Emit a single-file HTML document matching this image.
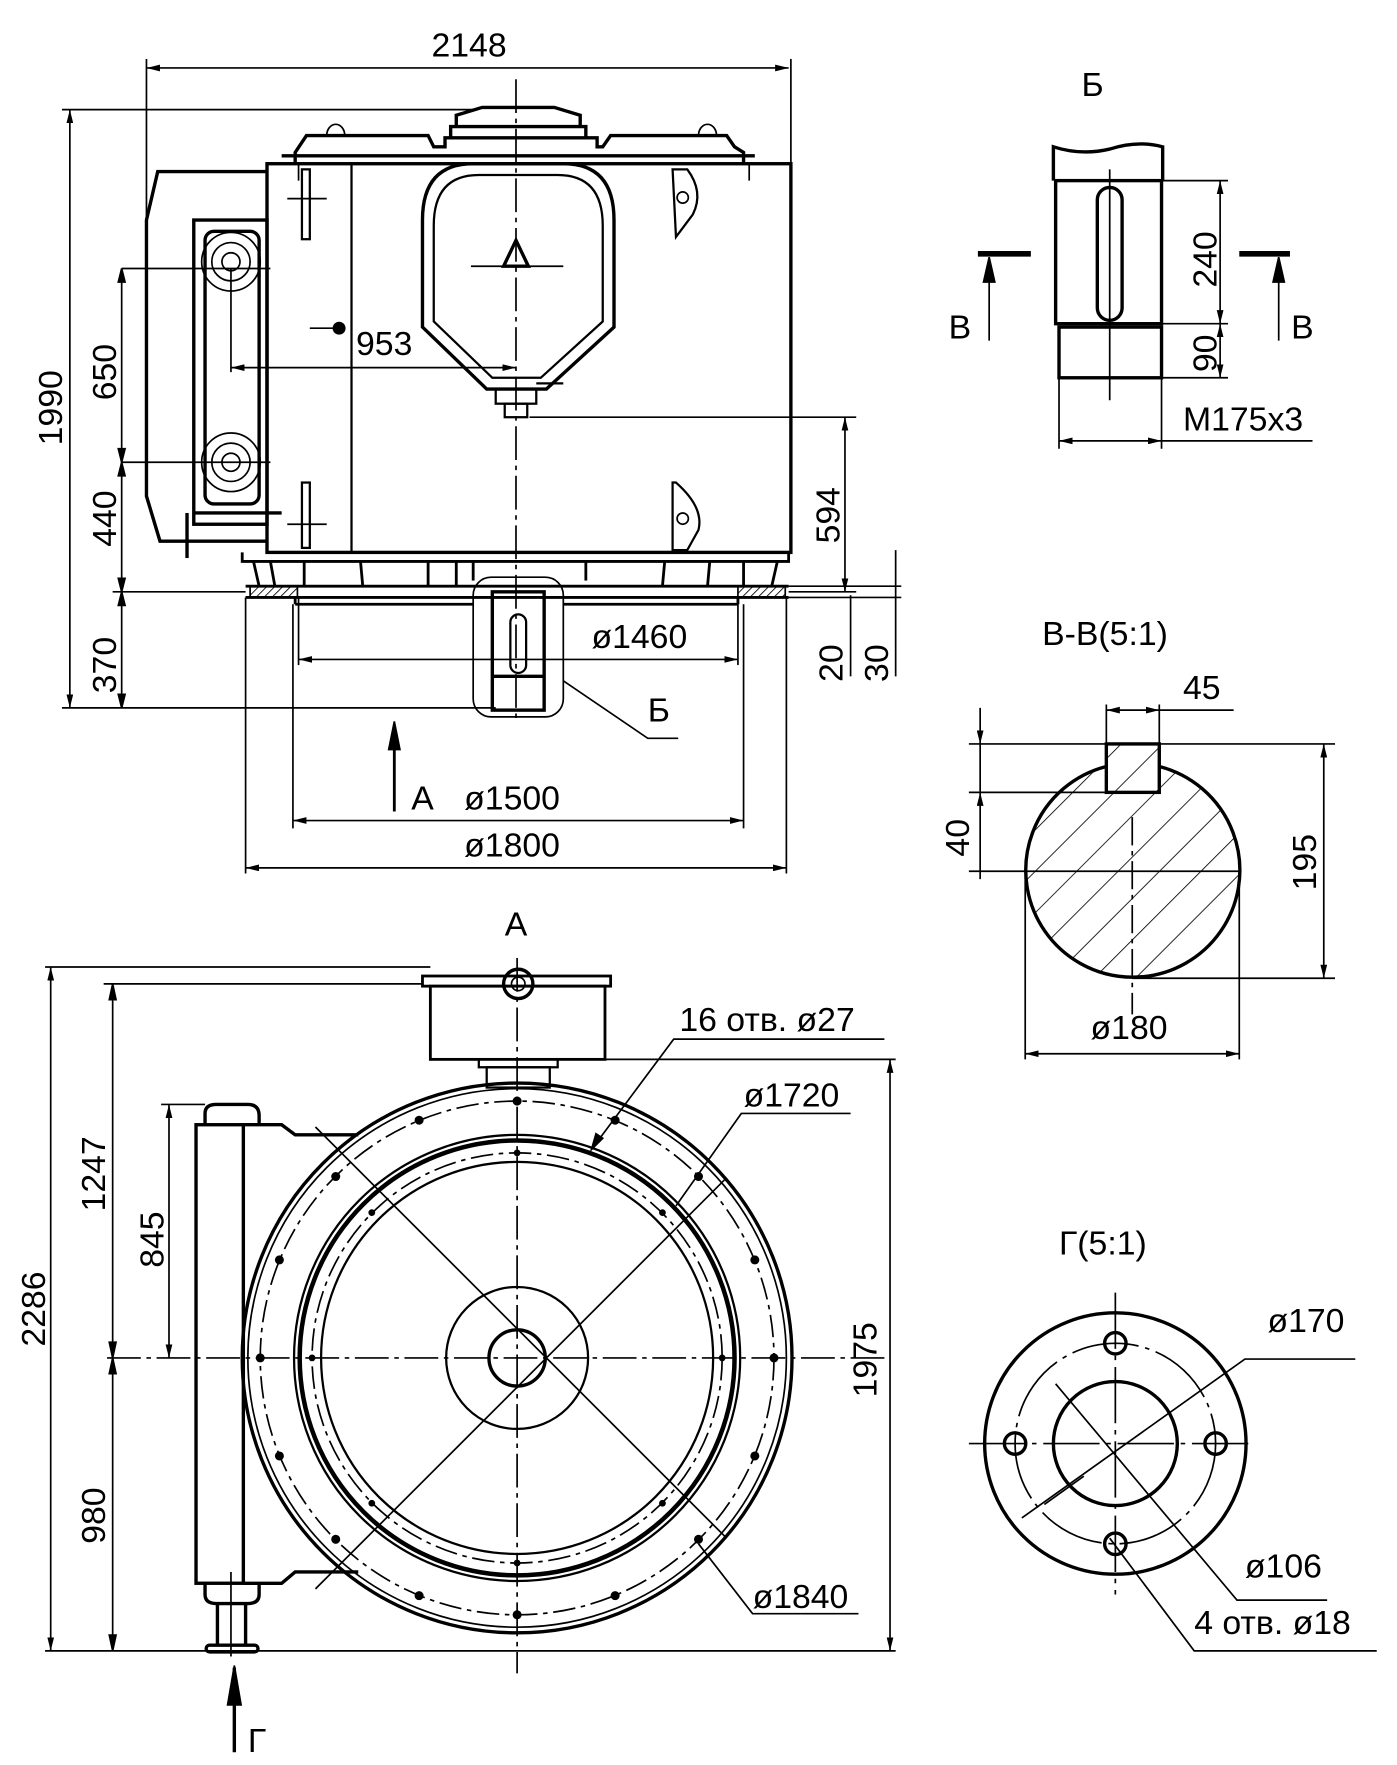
<!DOCTYPE html>
<html><head><meta charset="utf-8">
<style>
html,body{margin:0;padding:0;background:#fff;}
svg{display:block;}
text{font-family:"Liberation Sans","DejaVu Sans",sans-serif;font-size:30px;fill:#000;}
</style></head>
<body>
<svg width="1397" height="1765" viewBox="0 0 1240 1566" xmlns="http://www.w3.org/2000/svg">
<defs>
<marker id="a" viewBox="0 0 12 6" refX="12" refY="3" markerWidth="12" markerHeight="6" orient="auto-start-reverse" markerUnits="userSpaceOnUse"><path d="M0,0 L12,3 L0,6 z" fill="#000"/></marker>
<pattern id="h" patternUnits="userSpaceOnUse" width="26" height="26" patternTransform="rotate(45)"><line x1="0" y1="0" x2="0" y2="26" stroke="#000" stroke-width="1.5"/></pattern>
<pattern id="h2" patternUnits="userSpaceOnUse" width="5" height="5" patternTransform="rotate(45)"><line x1="0" y1="0" x2="0" y2="5" stroke="#000" stroke-width="1.5"/></pattern>
<clipPath id="sc"><path d="M982,680 A95,95 0 1,0 1029,680 L1029,703 L982,703 Z"/></clipPath>
</defs>
<g fill="none" stroke="#000" stroke-width="1.5">
<!-- ============ TOP VIEW ============ -->
<!-- 2148 -->
<line x1="130" y1="60" x2="700" y2="60" marker-start="url(#a)" marker-end="url(#a)"/>
<line x1="130" y1="52" x2="130" y2="300"/>
<line x1="702" y1="52" x2="702" y2="145"/>
<!-- centerline -->
<line x1="458" y1="70" x2="458" y2="640" stroke-dasharray="30,5,4,5"/>
<!-- body -->
<g stroke-width="3">
<rect x="237" y="145" width="465" height="345"/>
<path d="M262,145 L262,135 L272,120 L380,120 L385,130 L395,130 L395,122 L400,122 L400,112 L520,112 L520,122 L530,122 L530,130 L535,130 L542,120 L645,120 L652,130 L660,135 L660,145"/>
<path d="M405,112 L405,102 L428,95 L492,95 L515,102 L515,112"/>
<line x1="400" y1="122" x2="520" y2="122"/>
<line x1="250" y1="138" x2="670" y2="138"/>
<path d="M237,152 L140,152 L130,195 L130,440 L142,480 L237,480"/>
<rect x="172" y="195" width="65" height="270"/>
<rect x="182" y="205" width="48" height="242" rx="8"/>
<line x1="172" y1="455" x2="250" y2="455"/>
<line x1="166" y1="455" x2="166" y2="495"/>
</g>
<line x1="312" y1="145" x2="312" y2="490" stroke-width="2"/>
<path d="M290,120 A8,10 0 0,1 306,120 M620,120 A8,10 0 0,1 636,120"/>
<line x1="265" y1="145" x2="265" y2="160"/><line x1="665" y1="145" x2="665" y2="160"/>
<!-- motor circles -->
<g>
<circle cx="205" cy="232" r="26"/><circle cx="205" cy="232" r="17"/><circle cx="205" cy="232" r="8"/>
<circle cx="205" cy="410" r="26"/><circle cx="205" cy="410" r="17"/><circle cx="205" cy="410" r="8"/>
</g>
<line x1="108" y1="238" x2="240" y2="238"/>
<line x1="108" y1="410" x2="240" y2="410"/>
<line x1="205" y1="238" x2="205" y2="330"/>
<!-- slots -->
<rect x="268" y="150" width="7" height="62" stroke-width="2"/>
<rect x="268" y="428" width="7" height="58" stroke-width="2"/>
<line x1="255" y1="176" x2="290" y2="176"/><line x1="255" y1="465" x2="290" y2="465"/>
<path d="M597,150 L610,150 Q625,170 615,190 L600,210 Z" stroke-width="2"/>
<circle cx="606" cy="175" r="5"/>
<path d="M597,428 L600,428 Q625,450 620,470 L610,488 L597,488 Z" stroke-width="2"/>
<circle cx="606" cy="460" r="5"/>
<circle cx="301" cy="291" r="5" fill="#000"/><line x1="275" y1="291" x2="296" y2="291"/>
<!-- hopper -->
<path d="M375,195 Q375,145 420,145 L500,145 Q545,145 545,195 L545,290 L485,345 L432,345 L375,290 Z" stroke-width="3"/>
<path d="M385,200 Q385,155 425,155 L495,155 Q535,155 535,200 L535,285 L480,335 L437,335 L385,285 Z" stroke-width="2"/>
<rect x="440" y="345" width="36" height="13" stroke-width="2"/>
<rect x="448" y="358" width="20" height="12" stroke-width="2"/>
<line x1="476" y1="340" x2="500" y2="340" stroke-width="2"/>
<line x1="418" y1="236" x2="500" y2="236"/>
<path d="M447,236 L458,213 L469,236 Z" stroke-width="3"/>
<!-- 953 -->
<line x1="205" y1="326" x2="458" y2="326" marker-start="url(#a)" marker-end="url(#a)"/>
<!-- base -->
<g stroke-width="2.5">
<path d="M215,490 L215,498 L700,498 L700,490"/>
<path d="M225,498 L230,520 M690,498 L685,520"/>
<line x1="218" y1="520" x2="700" y2="520"/>
<line x1="218" y1="530" x2="700" y2="530"/>
<line x1="262" y1="530" x2="262" y2="536"/><line x1="655" y1="530" x2="655" y2="536"/>
<line x1="262" y1="536" x2="420" y2="536"/><line x1="500" y1="536" x2="655" y2="536"/>
<line x1="240" y1="498" x2="244" y2="520"/><line x1="270" y1="498" x2="270" y2="520"/>
<line x1="320" y1="498" x2="322" y2="520"/><line x1="380" y1="498" x2="380" y2="520"/>
<line x1="405" y1="498" x2="405" y2="520"/><line x1="420" y1="498" x2="420" y2="515"/>
<line x1="520" y1="498" x2="520" y2="515"/><line x1="590" y1="498" x2="588" y2="520"/>
<line x1="630" y1="498" x2="628" y2="520"/><line x1="660" y1="498" x2="660" y2="520"/>
</g>
<rect x="222" y="520" width="42" height="10" fill="url(#h2)"/>
<rect x="655" y="520" width="42" height="10" fill="url(#h2)"/>
<!-- shaft -->
<rect x="420" y="512" width="80" height="124" rx="16"/>
<rect x="437" y="525" width="46" height="105" stroke-width="3"/>
<line x1="437" y1="600" x2="483" y2="600" stroke-width="3"/>
<rect x="453" y="545" width="14" height="52" rx="7" stroke-width="2"/>
<!-- dims -->
<line x1="62" y1="97" x2="62" y2="628" marker-start="url(#a)" marker-end="url(#a)"/>
<line x1="55" y1="97" x2="420" y2="97"/>
<line x1="55" y1="628" x2="440" y2="628"/>
<line x1="108" y1="238" x2="108" y2="628"/>
<path d="M108,238 l-3,12 l6,0 z M108,410 l-3,-12 l6,0 z M108,410 l-3,12 l6,0z M108,525 l-3,-12 l6,0z M108,525 l-3,12 l6,0z M108,628 l-3,-12 l6,0z" fill="#000"/>
<line x1="100" y1="525" x2="218" y2="525"/>
<line x1="750" y1="370" x2="750" y2="525" marker-start="url(#a)" marker-end="url(#a)"/>
<line x1="470" y1="370" x2="760" y2="370"/>
<line x1="700" y1="520" x2="800" y2="520"/>
<line x1="700" y1="530" x2="800" y2="530"/>
<line x1="700" y1="525" x2="760" y2="525"/>
<line x1="755" y1="528" x2="755" y2="600"/><line x1="795" y1="488" x2="795" y2="600"/>
<line x1="265" y1="585" x2="655" y2="585" marker-start="url(#a)" marker-end="url(#a)"/>
<line x1="265" y1="530" x2="265" y2="590"/><line x1="655" y1="530" x2="655" y2="590"/>
<line x1="260" y1="728" x2="660" y2="728" marker-start="url(#a)" marker-end="url(#a)"/>
<line x1="260" y1="536" x2="260" y2="735"/><line x1="660" y1="536" x2="660" y2="735"/>
<line x1="218" y1="770" x2="698" y2="770" marker-start="url(#a)" marker-end="url(#a)"/>
<line x1="218" y1="530" x2="218" y2="775"/><line x1="698" y1="530" x2="698" y2="775"/>
<polyline points="500,604 575,655 602,655"/>
<line x1="350" y1="720" x2="350" y2="645" stroke-width="2.5"/>
<path d="M350,640 l-5,25 l10,0 z" fill="#000"/>

<!-- ============ VIEW Б ============ -->
<g stroke-width="3">
<path d="M935,160 L935,130 Q960,138 985,132 Q1010,124 1032,130 L1032,160"/>
<rect x="937" y="160" width="94" height="127"/>
<rect x="940" y="290" width="91" height="45"/>
<rect x="974" y="166" width="22" height="118" rx="11"/>
</g>
<line x1="985" y1="150" x2="985" y2="355"/>
<line x1="1032" y1="160" x2="1090" y2="160"/><line x1="1032" y1="287" x2="1090" y2="287"/><line x1="1032" y1="335" x2="1090" y2="335"/>
<line x1="1083" y1="160" x2="1083" y2="287" marker-start="url(#a)" marker-end="url(#a)"/>
<line x1="1083" y1="287" x2="1083" y2="335" marker-start="url(#a)" marker-end="url(#a)"/>
<line x1="940" y1="335" x2="940" y2="398"/><line x1="1031" y1="335" x2="1031" y2="398"/>
<line x1="940" y1="391" x2="1031" y2="391" marker-start="url(#a)" marker-end="url(#a)"/>
<line x1="1031" y1="391" x2="1165" y2="391"/>
<line x1="868" y1="225" x2="915" y2="225" stroke-width="5"/>
<line x1="878" y1="230" x2="878" y2="302"/><path d="M878,228 l-5,22 l10,0 z" fill="#000"/>
<line x1="1100" y1="225" x2="1145" y2="225" stroke-width="5"/>
<line x1="1135" y1="230" x2="1135" y2="302"/><path d="M1135,228 l-5,22 l10,0 z" fill="#000"/>

<!-- ============ SECTION В-В ============ -->
<rect x="900" y="660" width="220" height="220" fill="url(#h)" clip-path="url(#sc)" stroke="none"/>
<rect x="982" y="660" width="47" height="43" fill="url(#h)" stroke="none"/>
<path d="M982,680 A95,95 0 1,0 1029,680" stroke-width="3"/>
<rect x="982" y="660" width="47" height="43" stroke-width="3"/>
<line x1="860" y1="773" x2="1100" y2="773"/>
<line x1="1005" y1="725" x2="1005" y2="900" stroke-dasharray="25,5,4,5"/>
<line x1="860" y1="660" x2="1185" y2="660"/><line x1="860" y1="703" x2="982" y2="703"/>
<line x1="1005" y1="868" x2="1185" y2="868"/>
<line x1="1175" y1="660" x2="1175" y2="868" marker-start="url(#a)" marker-end="url(#a)"/>
<line x1="870" y1="628" x2="870" y2="660" marker-end="url(#a)"/>
<line x1="870" y1="780" x2="870" y2="703" marker-end="url(#a)"/>
<line x1="870" y1="660" x2="870" y2="703"/>
<line x1="982" y1="625" x2="982" y2="660"/><line x1="1029" y1="625" x2="1029" y2="660"/>
<line x1="982" y1="630" x2="1029" y2="630" marker-start="url(#a)" marker-end="url(#a)"/>
<line x1="1029" y1="630" x2="1095" y2="630"/>
<line x1="910" y1="773" x2="910" y2="940"/><line x1="1100" y1="773" x2="1100" y2="940"/>
<line x1="910" y1="935" x2="1100" y2="935" marker-start="url(#a)" marker-end="url(#a)"/>

<!-- ============ VIEW A ============ -->
<circle cx="459" cy="1205" r="244" stroke-width="3"/>
<circle cx="459" cy="1205" r="239"/>
<circle cx="459" cy="1205" r="228" stroke-dasharray="20,5,4,5"/>
<circle cx="459" cy="1205" r="198" stroke-width="2"/>
<circle cx="459" cy="1205" r="193" stroke-width="4"/>
<circle cx="459" cy="1205" r="182" stroke-dasharray="20,5,4,5"/>
<circle cx="459" cy="1205" r="174" stroke-width="2"/>
<circle cx="459" cy="1205" r="63" stroke-width="2"/>
<circle cx="459" cy="1205" r="25" stroke-width="3"/>
<g fill="#000" stroke="none">
<circle cx="459" cy="977" r="4"/><circle cx="459" cy="1433" r="4"/><circle cx="231" cy="1205" r="4"/><circle cx="687" cy="1205" r="4"/>
<circle cx="546" cy="994" r="4"/><circle cx="372" cy="994" r="4"/><circle cx="546" cy="1416" r="4"/><circle cx="372" cy="1416" r="4"/>
<circle cx="620" cy="1044" r="4"/><circle cx="298" cy="1044" r="4"/><circle cx="620" cy="1366" r="4"/><circle cx="298" cy="1366" r="4"/>
<circle cx="670" cy="1118" r="4"/><circle cx="248" cy="1118" r="4"/><circle cx="670" cy="1292" r="4"/><circle cx="248" cy="1292" r="4"/>
<circle cx="459" cy="1023" r="3"/><circle cx="459" cy="1387" r="3"/><circle cx="277" cy="1205" r="3"/><circle cx="641" cy="1205" r="3"/>
<circle cx="588" cy="1076" r="3"/><circle cx="330" cy="1076" r="3"/><circle cx="588" cy="1334" r="3"/><circle cx="330" cy="1334" r="3"/>
</g>
<line x1="95" y1="1205" x2="790" y2="1205" stroke-dasharray="30,5,4,5"/>
<line x1="459" y1="850" x2="459" y2="1485" stroke-dasharray="30,5,4,5"/>
<line x1="280" y1="1000" x2="645" y2="1365"/>
<line x1="280" y1="1410" x2="645" y2="1045"/>
<!-- top box -->
<rect x="382" y="875" width="155" height="65" stroke-width="2.5"/>
<rect x="375" y="866" width="167" height="9" stroke-width="2.5"/>
<rect x="425" y="940" width="70" height="7" stroke-width="2"/>
<rect x="432" y="947" width="56" height="18" stroke-width="2"/>
<circle cx="460" cy="873" r="13" stroke-width="3"/><circle cx="460" cy="873" r="6"/>
<!-- left frame -->
<g stroke-width="3">
<rect x="174" y="998" width="42" height="407"/>
<path d="M182,998 L182,988 Q182,980 192,980 L220,980 Q230,980 230,990 L230,998"/>
<path d="M216,998 L250,998 L262,1007 L318,1007"/>
<path d="M216,1405 L250,1405 L262,1395 L318,1395"/>
<path d="M182,1405 L182,1415 Q182,1423 192,1423 L220,1423 Q230,1423 230,1415 L230,1405"/>
<line x1="193" y1="1423" x2="193" y2="1460"/><line x1="218" y1="1423" x2="218" y2="1460"/>
<rect x="183" y="1460" width="46" height="6" rx="3"/>
</g>
<line x1="205" y1="1395" x2="205" y2="1470"/>
<line x1="208" y1="1555" x2="208" y2="1480" stroke-width="3"/>
<path d="M208,1478 l-6,35 l12,0 z" fill="#000"/>
<!-- dims A -->
<line x1="40" y1="858" x2="382" y2="858"/>
<line x1="92" y1="873" x2="375" y2="873"/>
<line x1="40" y1="1465" x2="795" y2="1465"/>
<line x1="45" y1="858" x2="45" y2="1465" marker-start="url(#a)" marker-end="url(#a)"/>
<line x1="100" y1="873" x2="100" y2="1465"/>
<path d="M100,873 l-3,14 l6,0z M100,1205 l-3,-14 l6,0z M100,1205 l-3,14 l6,0z M100,1465 l-3,-14 l6,0z" fill="#000"/>
<line x1="143" y1="980" x2="182" y2="980"/>
<line x1="150" y1="980" x2="150" y2="1205" marker-start="url(#a)" marker-end="url(#a)"/>
<line x1="537" y1="940" x2="795" y2="940"/>
<line x1="790" y1="940" x2="790" y2="1465" marker-start="url(#a)" marker-end="url(#a)"/>
<polyline points="525,1020 598,922 785,922" />
<path d="M525,1020 l4,-14 l6,4 z" fill="#000"/>
<polyline points="600,1070 658,988 755,988"/>
<polyline points="620,1370 668,1432 762,1432"/>

<!-- ============ VIEW Г ============ -->
<circle cx="990" cy="1281" r="116" stroke-width="3"/>
<circle cx="990" cy="1281" r="89" stroke-dasharray="60,6,4,6"/>
<circle cx="990" cy="1281" r="55" stroke-width="3"/>
<circle cx="990" cy="1192" r="9.5" stroke-width="3"/>
<circle cx="990" cy="1370" r="9.5" stroke-width="3"/>
<circle cx="901" cy="1281" r="9.5" stroke-width="3"/>
<circle cx="1079" cy="1281" r="9.5" stroke-width="3"/>
<line x1="860" y1="1281" x2="1110" y2="1281" stroke-dasharray="50,6,4,6"/>
<line x1="990" y1="1147" x2="990" y2="1415" stroke-dasharray="50,6,4,6"/>
<polyline points="907,1347 1105,1206 1203,1206"/>
<polyline points="937,1228 1098,1420 1178,1420"/>
<polyline points="985,1365 1060,1465 1222,1465"/>
<line x1="927" y1="1335" x2="962" y2="1310"/>
</g>

<!-- ============ TEXT ============ -->
<g>
<text x="383" y="50">2148</text>
<text x="316" y="315">953</text>
<text transform="translate(55,395) rotate(-90)">1990</text>
<text transform="translate(103,355) rotate(-90)">650</text>
<text transform="translate(103,485) rotate(-90)">440</text>
<text transform="translate(103,615) rotate(-90)">370</text>
<text transform="translate(745,482) rotate(-90)">594</text>
<text transform="translate(748,605) rotate(-90)">20</text>
<text transform="translate(788,605) rotate(-90)">30</text>
<text x="525" y="575">ø1460</text>
<text x="575" y="640">Б</text>
<text x="365" y="718">A</text>
<text x="412" y="718">ø1500</text>
<text x="412" y="760">ø1800</text>
<text x="960" y="85">Б</text>
<text x="842" y="300">B</text>
<text x="1146" y="300">B</text>
<text transform="translate(1080,255) rotate(-90)">240</text>
<text transform="translate(1080,330) rotate(-90)">90</text>
<text x="1050" y="382">M175x3</text>
<text x="925" y="572">B-B(5:1)</text>
<text x="1050" y="620">45</text>
<text transform="translate(860,760) rotate(-90)">40</text>
<text transform="translate(1168,790) rotate(-90)">195</text>
<text x="968" y="922">ø180</text>
<text x="448" y="830">A</text>
<text x="603" y="915">16 отв. ø27</text>
<text x="660" y="982">ø1720</text>
<text x="668" y="1427">ø1840</text>
<text transform="translate(40,1195) rotate(-90)">2286</text>
<text transform="translate(93,1075) rotate(-90)">1247</text>
<text transform="translate(93,1370) rotate(-90)">980</text>
<text transform="translate(145,1125) rotate(-90)">845</text>
<text transform="translate(778,1240) rotate(-90)">1975</text>
<text x="220" y="1555">Г</text>
<text x="940" y="1113">Г(5:1)</text>
<text x="1125" y="1182">ø170</text>
<text x="1105" y="1400">ø106</text>
<text x="1060" y="1450">4 отв. ø18</text>
</g>
</svg>
</body></html>
